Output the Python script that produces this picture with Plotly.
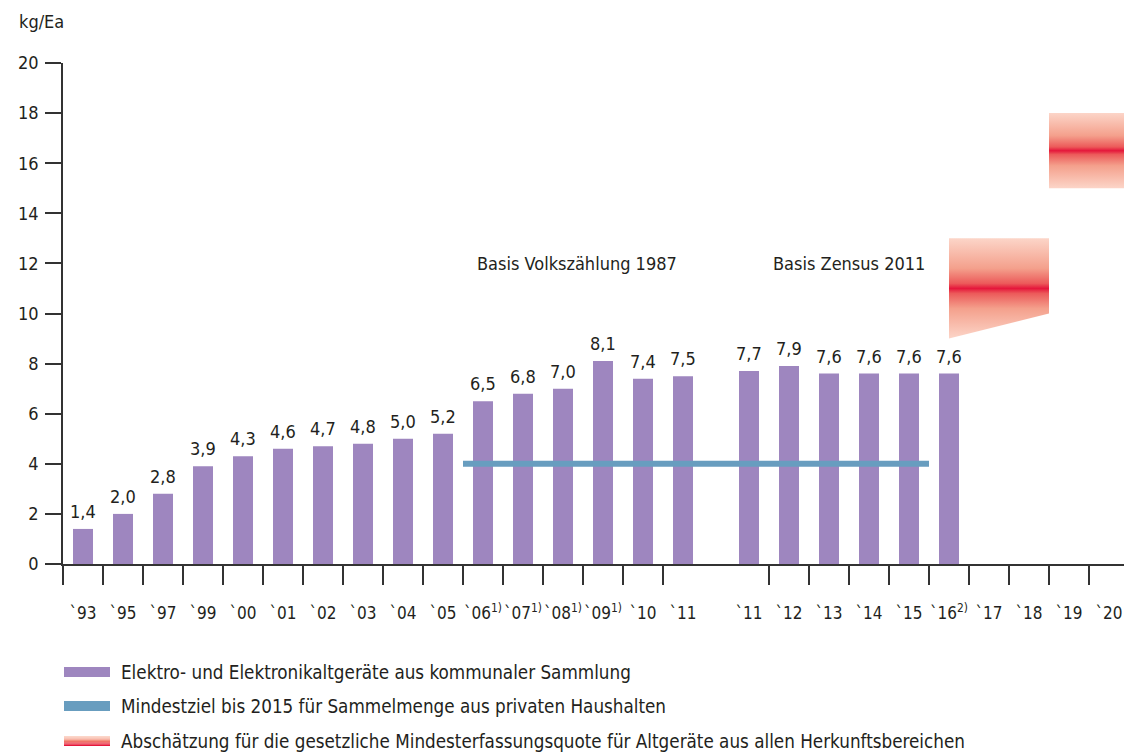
import plotly.graph_objects as go

# ---------------- data ----------------
cats_a = ["`93", "`95", "`97", "`99", "`00", "`01", "`02", "`03", "`04", "`05",
          "`06<sup>1)</sup>", "`07<sup>1)</sup>", "`08<sup>1)</sup>", "`09<sup>1)</sup>", "`10", "`11"]
vals_a = [1.4, 2.0, 2.8, 3.9, 4.3, 4.6, 4.7, 4.8, 5.0, 5.2, 6.5, 6.8, 7.0, 8.1, 7.4, 7.5]
cats_b = ["`11", "`12", "`13", "`14", "`15", "`16<sup>2)</sup>", "`17", "`18", "`19", "`20"]
vals_b = [7.7, 7.9, 7.6, 7.6, 7.6, 7.6]

target_value = 4           # Mindestziel bis 2015
# estimate ranges (low/high at start and end of each band)
est1_low = [9, 10]
est1_high = [13, 13]
est2_low = [15, 15]
est2_high = [18, 18]

y_ticks = list(range(0, 21, 2))

# ---------------- layout helpers ----------------
GAP = 0.65
pos_a = [i for i in range(len(cats_a))]
pos_b = [len(cats_a) + GAP + j for j in range(len(cats_b))]

PURPLE = "#9e86bf"
BLUE = "#689dbf"
TEXT = "#231f20"
AXIS = "#333333"
FONT = "DejaVu Sans Condensed, Liberation Sans Narrow, sans-serif"
grad = [[0, "#fcd5c8"], [0.3, "#f4a08c"], [0.45, "#ec5a5a"], [0.5, "#e5173b"],
        [0.55, "#ec5a5a"], [0.7, "#f4a08c"], [1, "#fcd5c8"]]

W, H = 1124, 754
L, R, T, B = 63, 0, 63, 190

def px(xp):
    return (xp - L) / (W - L - R)

def py(yp):
    return (H - B - yp) / (H - T - B)

fig = go.Figure()

bar_x = pos_a + pos_b[:len(vals_b)]
bar_y = vals_a + vals_b
fig.add_trace(go.Bar(x=bar_x, y=bar_y, width=0.5, marker=dict(color=PURPLE, line=dict(width=0)),
                     showlegend=False, hoverinfo="skip"))

# target line from `06 to `15
fig.add_trace(go.Scatter(x=[pos_a[10] - 0.5, pos_b[4] + 0.5], y=[target_value, target_value],
                         mode="lines", line=dict(color=BLUE, width=6), showlegend=False))

# estimate bands
x0, x1 = pos_b[5], pos_b[7] + 0.5
fig.add_trace(go.Scatter(x=[x0, x1, x1, x0, x0],
                         y=[est1_low[0], est1_low[1], est1_high[1], est1_high[0], est1_low[0]],
                         mode="lines", fill="toself", line=dict(width=0),
                         fillgradient=dict(type="vertical", colorscale=grad), showlegend=False))
x0, x1 = pos_b[8] - 0.5, pos_b[9] + 0.5
fig.add_trace(go.Scatter(x=[x0, x1, x1, x0, x0],
                         y=[est2_low[0], est2_low[1], est2_high[1], est2_high[0], est2_low[0]],
                         mode="lines", fill="toself", line=dict(width=0),
                         fillgradient=dict(type="vertical", colorscale=grad), showlegend=False))

annotations = []
for xv, yv in zip(bar_x, bar_y):
    annotations.append(dict(x=xv, y=yv, text=f"{yv:.1f}".replace(".", ","), showarrow=False,
                            yanchor="bottom", yshift=5, font=dict(size=18, color=TEXT, family=FONT)))
annotations.append(dict(x=12.35, y=12, text="Basis Volkszählung 1987", showarrow=False,
                        font=dict(size=18, color=TEXT, family=FONT)))
annotations.append(dict(x=19.15, y=12, text="Basis Zensus 2011", showarrow=False,
                        font=dict(size=18, color=TEXT, family=FONT)))
annotations.append(dict(xref="paper", yref="paper", x=px(17), y=py(21), xanchor="left", yanchor="middle",
                        text="kg/Ea", showarrow=False, font=dict(size=18, color=TEXT, family=FONT)))

legend_items = [
    ("Elektro- und Elektronikaltgeräte aus kommunaler Sammlung", 672),
    ("Mindestziel bis 2015 für Sammelmenge aus privaten Haushalten", 706),
    ("Abschätzung für die gesetzliche Mindesterfassungsquote für Altgeräte aus allen Herkunftsbereichen", 741),
]
shapes = []
for i, (txt, yc) in enumerate(legend_items):
    annotations.append(dict(xref="paper", yref="paper", x=px(119), y=py(yc), xanchor="left",
                            yanchor="middle", text=txt, showarrow=False,
                            font=dict(size=18.7, color=TEXT, family=FONT)))
    if i < 2:
        shapes.append(dict(type="rect", xref="paper", yref="paper", x0=px(64), x1=px(110),
                           y0=py(yc - 5), y1=py(yc + 5), fillcolor=[PURPLE, BLUE][i], line=dict(width=0)))
stripe_cols = ["#fcd5c8", "#f9c0b0", "#f6a996", "#f4917e", "#f07468", "#ec5152", "#e82a42", "#e5173b"]
n = len(stripe_cols)
yc = legend_items[2][1]
for k, c in enumerate(stripe_cols):
    shapes.append(dict(type="rect", xref="paper", yref="paper", x0=px(64), x1=px(110),
                       y0=py(yc - 5 + k * 10 / n), y1=py(yc - 5 + (k + 1) * 10 / n),
                       fillcolor=c, line=dict(width=0)))

boundary_ticks = [p - 0.5 for p in pos_a] + [p + 0.5 for p in pos_b]

fig.update_layout(
    width=W, height=H, margin=dict(l=L, r=R, t=T, b=B, autoexpand=False),
    paper_bgcolor="white", plot_bgcolor="white",
    font=dict(family=FONT, color=TEXT, size=18),
    separators=", ",
    annotations=annotations, shapes=shapes,
    showlegend=False,
    xaxis=dict(range=[-0.5, -0.5 + (W - L - R) / 40.0], tickmode="array",
               tickvals=pos_a + pos_b, ticktext=cats_a + cats_b, ticks="",
               tickangle=0, automargin=False,
               ticklabelstandoff=33, showgrid=False, zeroline=False,
               showline=True, linecolor=AXIS, linewidth=1.5,
               tickfont=dict(size=17, color=TEXT, family=FONT),
               minor=dict(tickmode="array", tickvals=boundary_ticks, ticks="outside",
                          ticklen=19, tickwidth=1.5, tickcolor=AXIS, showgrid=False)),
    yaxis=dict(range=[0, 20], tickmode="array", tickvals=y_ticks, ticks="outside",
               ticklen=16, tickwidth=1.5, tickcolor=AXIS, showline=True, linecolor=AXIS,
               linewidth=1.5, showgrid=False, zeroline=False, ticklabelstandoff=3,
               automargin=False,
               tickfont=dict(size=18, color=TEXT, family=FONT)),
)

fig.write_html("out.html", config={"displayModeBar": False},
               post_script="document.body.style.margin='0';document.body.style.overflow='hidden';")
